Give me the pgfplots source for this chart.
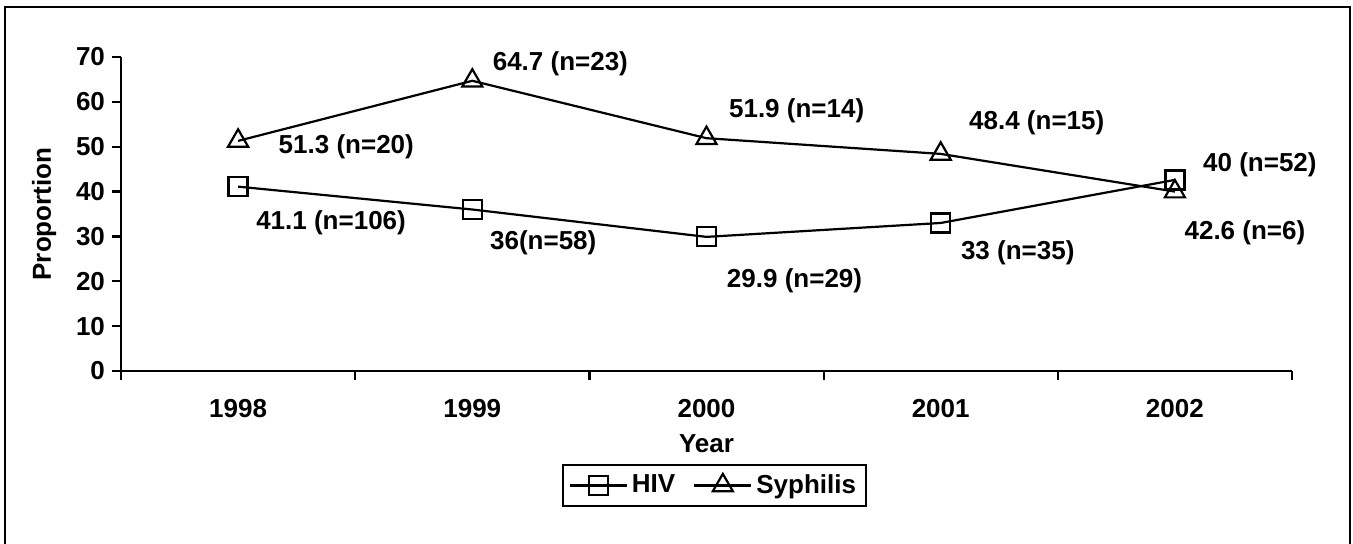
\documentclass[border=0pt]{standalone}
\usepackage{fontspec}
\setmainfont{Liberation Sans}
\usepackage{pgfplots}
\pgfplotsset{compat=1.18}
\begin{document}
\begin{tikzpicture}
\useasboundingbox (-60.5pt,-86.5pt) rectangle (616pt,185.5pt);
\begin{axis}[
  at={(0pt,0pt)}, anchor=south west,
  scale only axis,
  width=585.5pt, height=157pt,
  font=\fontsize{13}{15}\selectfont\bfseries,
  axis x line=bottom, axis y line=left,
  axis line style={line width=1.1pt, -},
  xmin=-0.5, xmax=4.5, ymin=0, ymax=70,
  xtick={-0.5,0.5,1.5,2.5,3.5,4.5},
  x tick label as interval,
  xticklabels={1998,1999,2000,2001,2002},
  xticklabel style={yshift=-6pt},
  ytick={0,10,...,70},
  tick align=outside,
  major tick length=4.5pt,
  tick style={line width=1.1pt, black},
  /pgf/number format/assume math mode=true,
  xlabel={Year},
  ylabel={Proportion},
  xlabel style={yshift=-1.5pt},
  ylabel style={yshift=3pt},
  legend columns=2,
  legend style={at={(0.5068,-0.3646)}, anchor=center, draw=black, line width=1pt,
    font=\fontsize{13}{15}\selectfont\bfseries, inner sep=3pt,
    /tikz/every even column/.append style={column sep=7pt}},
  legend image code/.code={\draw[mark repeat=2,mark phase=2] plot coordinates {(0cm,0cm)(0.5cm,0cm)(1cm,0cm)};},
  clip=false,
]
\addplot[black, line width=1.1pt, mark=square, mark size=4.75pt, mark options={line width=1.1pt}]
  coordinates {(0,41.1) (1,36) (2,29.9) (3,33) (4,42.6)};
\addlegendentry{HIV}
\addplot[black, line width=1.1pt, mark=triangle, mark size=5.8pt, mark options={line width=1.1pt}]
  coordinates {(0,51.3) (1,64.7) (2,51.9) (3,48.4) (4,40)};
\addlegendentry{Syphilis}
\node at (axis cs:1.376,68.4) {64.7 (n=23)};
\node at (axis cs:0.462,49.9) {51.3 (n=20)};
\node at (axis cs:0.397,33.0) {41.1 (n=106)};
\node at (axis cs:1.303,28.5) {36(n=58)};
\node at (axis cs:2.385,58.0) {51.9 (n=14)};
\node at (axis cs:2.376,20.1) {29.9 (n=29)};
\node at (axis cs:3.410,55.3) {48.4 (n=15)};
\node at (axis cs:3.329,26.3) {33 (n=35)};
\node at (axis cs:4.363,45.9) {40 (n=52)};
\node at (axis cs:4.299,30.8) {42.6 (n=6)};
\end{axis}
\draw[line width=1pt] (-58pt,-95pt) rectangle (614.5pt,182pt);
\end{tikzpicture}
\end{document}
